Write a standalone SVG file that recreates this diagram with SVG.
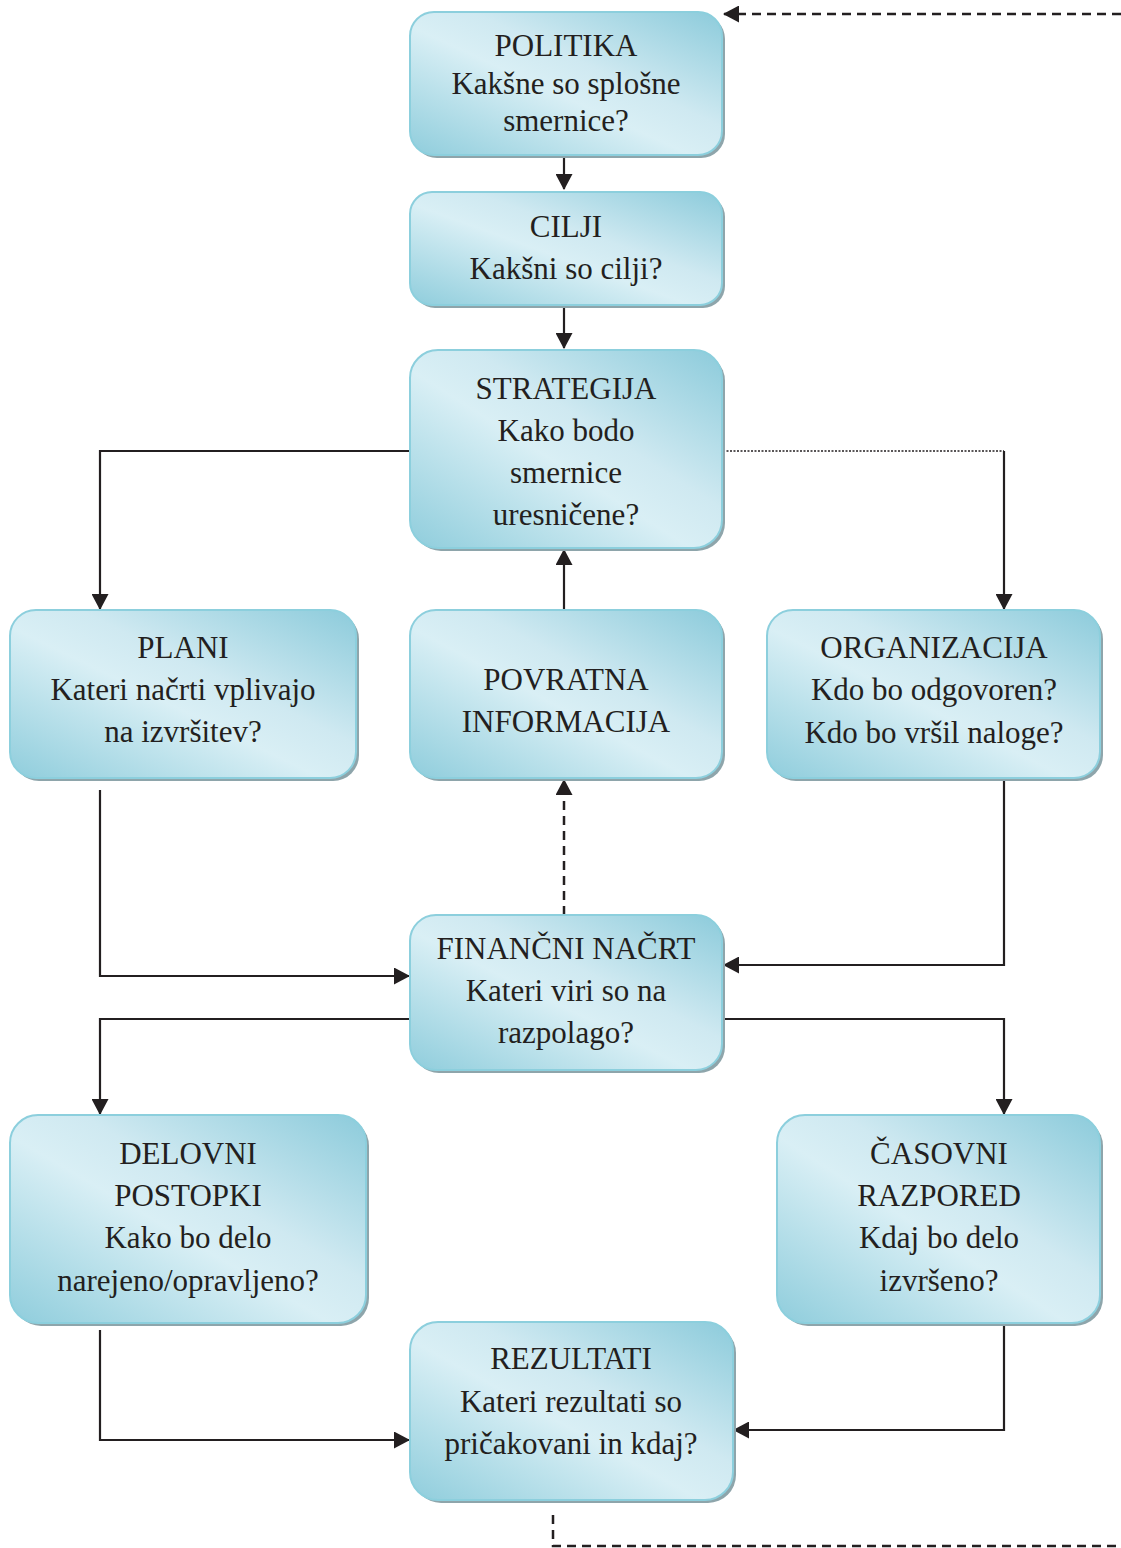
<svg xmlns="http://www.w3.org/2000/svg" width="1121" height="1548" viewBox="0 0 1121 1548">
<defs>
<linearGradient id="g" x1="0" y1="1" x2="1" y2="0">
<stop offset="0" stop-color="#8fcddc"/>
<stop offset="0.45" stop-color="#d9eff5"/>
<stop offset="0.6" stop-color="#cfe9f1"/>
<stop offset="1" stop-color="#8ccbdb"/>
</linearGradient>
<marker id="ah" markerUnits="userSpaceOnUse" markerWidth="17" markerHeight="17" viewBox="0 0 16 17" refX="15" refY="8.5" orient="auto">
<path d="M0,0 L16,8.5 L0,17 z" fill="#231f20"/>
</marker>
</defs>
<style>
.sh{fill:#8ea5ab}
.bx{fill:url(#g);stroke:#8ccfdd;stroke-width:2}
.t{font-family:"Liberation Serif","Times New Roman",serif;font-size:31px;fill:#231f20;text-anchor:middle}
.c{fill:none;stroke:#231f20;stroke-width:2.2}
.dash{stroke-dasharray:9 6;stroke-width:2.5}
.dot{stroke-dasharray:2 1.5;stroke-width:1.5}
</style>
<g id="connectors">
<path class="c" d="M564,157 V189" marker-end="url(#ah)"/>
<path class="c" d="M564,307 V348" marker-end="url(#ah)"/>
<path class="c" d="M410,451 H100 V609" marker-end="url(#ah)"/>
<path class="c dot" d="M723,451 H1004"/>
<path class="c" d="M1004,451 V609" marker-end="url(#ah)"/>
<path class="c" d="M564,610 V550" marker-end="url(#ah)"/>
<path class="c dash" d="M564,915 V780" marker-end="url(#ah)"/>
<path class="c" d="M100,790 V976 H409" marker-end="url(#ah)"/>
<path class="c" d="M1004,780 V965 H724" marker-end="url(#ah)"/>
<path class="c" d="M410,1019 H100 V1114" marker-end="url(#ah)"/>
<path class="c" d="M723,1019 H1004 V1114" marker-end="url(#ah)"/>
<path class="c" d="M100,1330 V1440 H409" marker-end="url(#ah)"/>
<path class="c" d="M1004,1322 V1430 H734" marker-end="url(#ah)"/>
<path class="c dash" d="M553,1515 V1546 H1121"/>
<path class="c dash" d="M1121,14 H724" marker-end="url(#ah)"/>
</g>
<g id="politika">
<rect class="sh" x="413" y="15" width="312" height="143" rx="24"/>
<rect class="bx" x="410" y="12" width="312" height="143" rx="24"/>
<text class="t" x="566" y="56">POLITIKA</text>
<text class="t" x="566" y="94">Kakšne so splošne</text>
<text class="t" x="566" y="131">smernice?</text>
</g>
<g id="cilji">
<rect class="sh" x="413" y="195" width="312" height="113" rx="22"/>
<rect class="bx" x="410" y="192" width="312" height="113" rx="22"/>
<text class="t" x="566" y="237">CILJI</text>
<text class="t" x="566" y="279">Kakšni so cilji?</text>
</g>
<g id="strategija">
<rect class="sh" x="413" y="353" width="312" height="198" rx="28"/>
<rect class="bx" x="410" y="350" width="312" height="198" rx="28"/>
<text class="t" x="566" y="399">STRATEGIJA</text>
<text class="t" x="566" y="441">Kako bodo</text>
<text class="t" x="566" y="483">smernice</text>
<text class="t" x="566" y="525">uresničene?</text>
</g>
<g id="plani">
<rect class="sh" x="13" y="613" width="346" height="168" rx="26"/>
<rect class="bx" x="10" y="610" width="346" height="168" rx="26"/>
<text class="t" x="183" y="658">PLANI</text>
<text class="t" x="183" y="700">Kateri načrti vplivajo</text>
<text class="t" x="183" y="742">na izvršitev?</text>
</g>
<g id="povratna">
<rect class="sh" x="413" y="613" width="312" height="168" rx="26"/>
<rect class="bx" x="410" y="610" width="312" height="168" rx="26"/>
<text class="t" x="566" y="690">POVRATNA</text>
<text class="t" x="566" y="732">INFORMACIJA</text>
</g>
<g id="organizacija">
<rect class="sh" x="770" y="613" width="333" height="168" rx="26"/>
<rect class="bx" x="767" y="610" width="333" height="168" rx="26"/>
<text class="t" x="934" y="658">ORGANIZACIJA</text>
<text class="t" x="934" y="700">Kdo bo odgovoren?</text>
<text class="t" x="934" y="743">Kdo bo vršil naloge?</text>
</g>
<g id="financni">
<rect class="sh" x="413" y="918" width="312" height="155" rx="26"/>
<rect class="bx" x="410" y="915" width="312" height="155" rx="26"/>
<text class="t" x="566" y="959">FINANČNI NAČRT</text>
<text class="t" x="566" y="1001">Kateri viri so na</text>
<text class="t" x="566" y="1043">razpolago?</text>
</g>
<g id="delovni">
<rect class="sh" x="13" y="1118" width="356" height="208" rx="28"/>
<rect class="bx" x="10" y="1115" width="356" height="208" rx="28"/>
<text class="t" x="188" y="1164">DELOVNI</text>
<text class="t" x="188" y="1206">POSTOPKI</text>
<text class="t" x="188" y="1248">Kako bo delo</text>
<text class="t" x="188" y="1291">narejeno/opravljeno?</text>
</g>
<g id="casovni">
<rect class="sh" x="780" y="1118" width="323" height="208" rx="28"/>
<rect class="bx" x="777" y="1115" width="323" height="208" rx="28"/>
<text class="t" x="939" y="1164">ČASOVNI</text>
<text class="t" x="939" y="1206">RAZPORED</text>
<text class="t" x="939" y="1248">Kdaj bo delo</text>
<text class="t" x="939" y="1291">izvršeno?</text>
</g>
<g id="rezultati">
<rect class="sh" x="413" y="1325" width="323" height="178" rx="28"/>
<rect class="bx" x="410" y="1322" width="323" height="178" rx="28"/>
<text class="t" x="571" y="1369">REZULTATI</text>
<text class="t" x="571" y="1412">Kateri rezultati so</text>
<text class="t" x="571" y="1454">pričakovani in kdaj?</text>
</g>
</svg>
